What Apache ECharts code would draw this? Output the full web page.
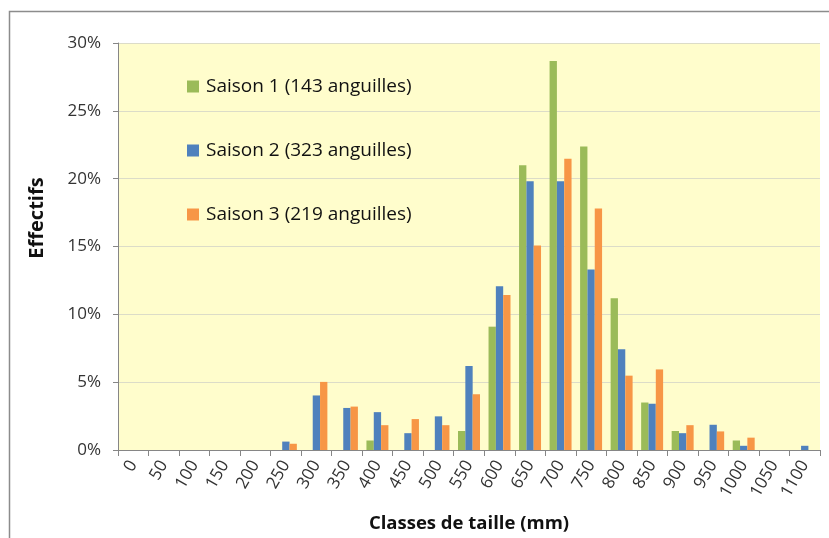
<!DOCTYPE html>
<html>
<head>
<meta charset="utf-8">
<script src="https://cdn.jsdelivr.net/npm/echarts@6/dist/echarts.min.js"></script>
<style>
  html, body { margin: 0; padding: 0; background: #fff; }
  #chart { width: 829px; height: 538px; }
</style>
</head>
<body>
<div id="chart"></div>
<script>
// classes de taille (mm)
var classes = ['0', '50', '100', '150', '200', '250', '300', '350', '400', '450', '500', '550',
  '600', '650', '700', '750', '800', '850', '900', '950', '1000', '1050', '1100']

// effectifs en %
var saison1 = [0, 0, 0, 0, 0, 0, 0, 0, 0.70, 0, 0, 1.40,
  9.09, 20.98, 28.67, 22.38, 11.19, 3.50, 1.40, 0, 0.70, 0, 0]
var saison2 = [0, 0, 0, 0, 0, 0.62, 4.02, 3.10, 2.79, 1.24, 2.48, 6.19,
  12.07, 19.81, 19.81, 13.31, 7.43, 3.41, 1.24, 1.86, 0.31, 0, 0.31]
var saison3 = [0, 0, 0, 0, 0, 0.46, 5.02, 3.20, 1.83, 2.28, 1.83, 4.11,
  11.42, 15.07, 21.46, 17.81, 5.48, 5.94, 1.83, 1.37, 0.91, 0, 0]

var seriesNames = ['Saison 1 (143 anguilles)', 'Saison 2 (323 anguilles)', 'Saison 3 (219 anguilles)']
var yTicks = [0, 5, 10, 15, 20, 25, 30]

var font = 'Open Sans, Calibri, sans-serif'
var chart = echarts.init(document.getElementById('chart'))

var option = {
  animation: false,
  color: ['#9BBB59', '#4F81BD', '#F79646'],
  graphic: [{
    type: 'rect',
    shape: { x: 9.5, y: 11.5, width: 900, height: 600 },
    style: { fill: 'none', stroke: '#8c8c8c', lineWidth: 1.5 },
    z: -10
  }, {
    // titre de l'axe vertical
    type: 'text',
    x: 37,
    y: 218,
    rotation: Math.PI / 2,
    style: {
      text: 'Effectifs',
      font: 'bold 20px ' + font,
      fill: '#111',
      align: 'center',
      verticalAlign: 'middle'
    }
  }],
  grid: {
    left: 118,
    top: 43,
    right: 9,
    bottom: 87,
    show: true,
    backgroundColor: '#FFFDCC',
    borderWidth: 0
  },
  legend: {
    orient: 'vertical',
    left: 187,
    top: 75,
    padding: 0,
    itemWidth: 12,
    itemHeight: 12,
    itemGap: 41,
    icon: 'rect',
    textStyle: {
      fontFamily: font,
      fontSize: 19,
      color: '#111',
      lineHeight: 23,
      padding: [0, 0, 0, 2]
    },
    data: seriesNames
  },
  xAxis: {
    type: 'category',
    data: classes,
    name: 'Classes de taille (mm)',
    nameLocation: 'middle',
    nameGap: 64,
    nameTextStyle: { fontFamily: font, fontSize: 18.5, fontWeight: 'bold', color: '#111' },
    axisLine: { lineStyle: { color: '#868686' } },
    axisTick: { show: true, length: 6, lineStyle: { color: '#868686' } },
    axisLabel: {
      rotate: 60,
      interval: 0,
      margin: 12,
      fontFamily: font,
      fontSize: 17,
      color: '#333'
    }
  },
  yAxis: {
    type: 'value',
    min: yTicks[0],
    max: yTicks[yTicks.length - 1],
    interval: 5,
    axisLine: { show: true, lineStyle: { color: '#868686' } },
    axisTick: { show: true, length: 5, lineStyle: { color: '#868686' } },
    splitLine: { lineStyle: { color: '#DCDCC8' } },
    axisLabel: {
      formatter: '{value}%',
      margin: 17,
      fontFamily: font,
      fontSize: 17,
      color: '#333'
    }
  },
  series: [
    { name: seriesNames[0], type: 'bar', data: saison1, barGap: '0%', barCategoryGap: '28%' },
    { name: seriesNames[1], type: 'bar', data: saison2, barGap: '0%', barCategoryGap: '28%' },
    { name: seriesNames[2], type: 'bar', data: saison3, barGap: '0%', barCategoryGap: '28%' }
  ]
}

chart.setOption(option)
</script>
</body>
</html>
